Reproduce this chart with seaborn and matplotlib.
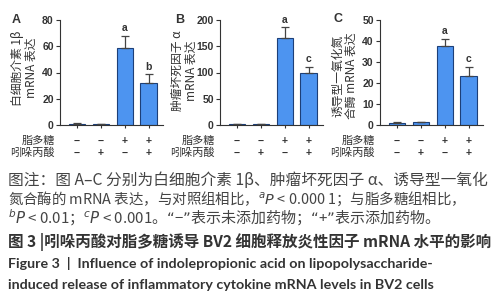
import numpy as np
import pandas as pd
import matplotlib
matplotlib.use('Agg')
import matplotlib.pyplot as plt
import matplotlib.transforms as mtrans
import seaborn as sns

# data
groups = ['g1', 'g2', 'g3', 'g4']
lps = ['−', '−', '+', '+']
ipa = ['−', '+', '−', '+']

il1b = [1.0, 0.8, 59, 32]
il1b_err = [0.2, 0.2, 9, 6.5]
tnfa = [1.0, 1.5, 166, 100]
tnfa_err = [0.3, 0.3, 20, 10]
inos = [1.0, 1.2, 37.5, 23.5]
inos_err = [0.2, 0.2, 3.5, 4]

sig_a = ['', '', 'a', 'b']
sig_b = ['', '', 'a', 'c']
sig_c = ['', '', 'a', 'c']

panels = [
    ('A', il1b, il1b_err, sig_a, '白细胞介素 1β\nmRNA 表达', [0, 20, 40, 60, 80], 0.54),
    ('B', tnfa, tnfa_err, sig_b, '肿瘤坏死因子 α\nmRNA 表达', [0, 50, 100, 150, 200], 0.52),
    ('C', inos, inos_err, sig_c, '诱导型一氧化氮\n合酶 mRNA 表达', [0, 10, 20, 30, 40, 50], 0.47),
]

sns.set_theme(style='ticks')
plt.rcParams['font.family'] = ['Noto Sans CJK SC', 'DejaVu Sans']
plt.rcParams['mathtext.fontset'] = 'dejavusans'

cjk = ['Noto Sans CJK SC', 'DejaVu Sans']
num_font = ['Liberation Sans', 'DejaVu Sans']
fill = '#4d94f0'
edge = '#1d3f78'
dark = '#333333'

fig = plt.figure(figsize=(4.99, 3.0), dpi=100)

lefts = [60, 220, 380]
letter_pos = [(16, 20), (180, 20), (338, 19)]

for i, (letter, vals, errs, sig, ylab, yticks, ly) in enumerate(panels):
    ax = fig.add_axes([lefts[i] / 499, 175 / 300, 103 / 499, 105 / 300])
    df = pd.DataFrame({'group': groups, 'value': vals})
    sns.barplot(data=df, x='group', y='value', ax=ax, color=fill,
                edgecolor=edge, linewidth=0.8, width=0.68, saturation=1,
                errorbar=None)
    # error bars, upper only
    ax.errorbar(np.arange(len(vals)), vals, yerr=[np.zeros(len(errs)), errs],
                fmt='none', ecolor='#444444', elinewidth=0.9, capsize=3,
                capthick=0.9)
    for x, (v, e, s) in enumerate(zip(vals, errs, sig)):
        if s:
            ax.annotate(s, (x, v + e), xytext=(0, 2), textcoords='offset points',
                        ha='center', va='bottom', fontsize=7.5,
                        fontweight='bold', color=dark, family=num_font)

    ax.set_xlim(-0.7, 3.6)
    ax.set_ylim(0, yticks[-1])
    ax.set_yticks(yticks)
    ax.set_xticks(range(4))
    ax.set_xticklabels([])
    ax.set_xlabel('')
    ax.set_ylabel(ylab, fontsize=8.5, family=cjk, color=dark, linespacing=1.0)
    ax.yaxis.set_label_coords(-0.22, ly)
    for t in ax.get_yticklabels():
        t.set_fontfamily(num_font)
        t.set_fontweight('bold')
    ax.tick_params(axis='y', labelsize=7.5, length=3, width=0.8, pad=1.5,
                   colors=dark)
    ax.tick_params(axis='x', length=2.5, width=0.8, colors=dark)
    for sp in ['left', 'bottom']:
        ax.spines[sp].set_linewidth(0.8)
        ax.spines[sp].set_color(dark)
    sns.despine(ax=ax)

    # +/- rows under the axis
    tr = mtrans.blended_transform_factory(ax.transData, fig.transFigure)
    for x, (a, b) in enumerate(zip(lps, ipa)):
        ax.text(x, 1 - 141 / 300, a, transform=tr, ha='center', va='center',
                fontsize=7.5, fontweight='bold', color=dark, family=num_font)
        ax.text(x, 1 - 153 / 300, b, transform=tr, ha='center', va='center',
                fontsize=7.5, fontweight='bold', color=dark, family=num_font)
    trl = mtrans.blended_transform_factory(ax.transAxes, fig.transFigure)
    ax.text(-0.05, 1 - 141 / 300, '脂多糖', transform=trl, ha='right',
            va='center', fontsize=8, color=dark, family=cjk)
    ax.text(-0.05, 1 - 153 / 300, '吲哚丙酸', transform=trl, ha='right',
            va='center', fontsize=8, color=dark, family=cjk)

    fig.text(letter_pos[i][0] / 499, 1 - letter_pos[i][1] / 300, letter,
             ha='center', va='center', fontsize=9, fontweight='bold',
             color=dark, family=num_font)

# caption
caption = [
    ('图注：图 A–C 分别为白细胞介素 1β、肿瘤坏死因子 α、诱导型一氧化', 11.3),
    ('氮合酶的 mRNA 表达，与对照组相比，$^{a}\\mathit{P}$ < 0.000 1；与脂多糖组相比，', 10.4),
    ('$^{b}\\mathit{P}$ < 0.01；$^{c}\\mathit{P}$ < 0.001。“−”表示未添加药物；“+”表示添加药物。', 10.8),
]
ys = [180, 199, 218]
for (line, fs), y in zip(caption, ys):
    fig.text(8 / 499, 1 - y / 300, line, ha='left', va='center', fontsize=fs,
             color='#444444', family=cjk)

fig.text(8 / 499, 1 - 242 / 300, '图 3 |吲哚丙酸对脂多糖诱导 BV2 细胞释放炎性因子 mRNA 水平的影响',
         ha='left', va='center', fontsize=11.2, fontweight='bold', color=dark,
         family=cjk)
fig.text(8 / 499, 1 - 263 / 300,
         'Figure 3  |  Influence of indolepropionic acid on lipopolysaccharide-',
         ha='left', va='center', fontsize=10.3, fontweight='bold', color=dark,
         family=['Lato', 'DejaVu Sans'])
fig.text(8 / 499, 1 - 285 / 300,
         'induced release of inflammatory cytokine mRNA levels in BV2 cells',
         ha='left', va='center', fontsize=10.3, fontweight='bold', color=dark,
         family=['Lato', 'DejaVu Sans'])

fig.savefig('out.png', dpi=100)
